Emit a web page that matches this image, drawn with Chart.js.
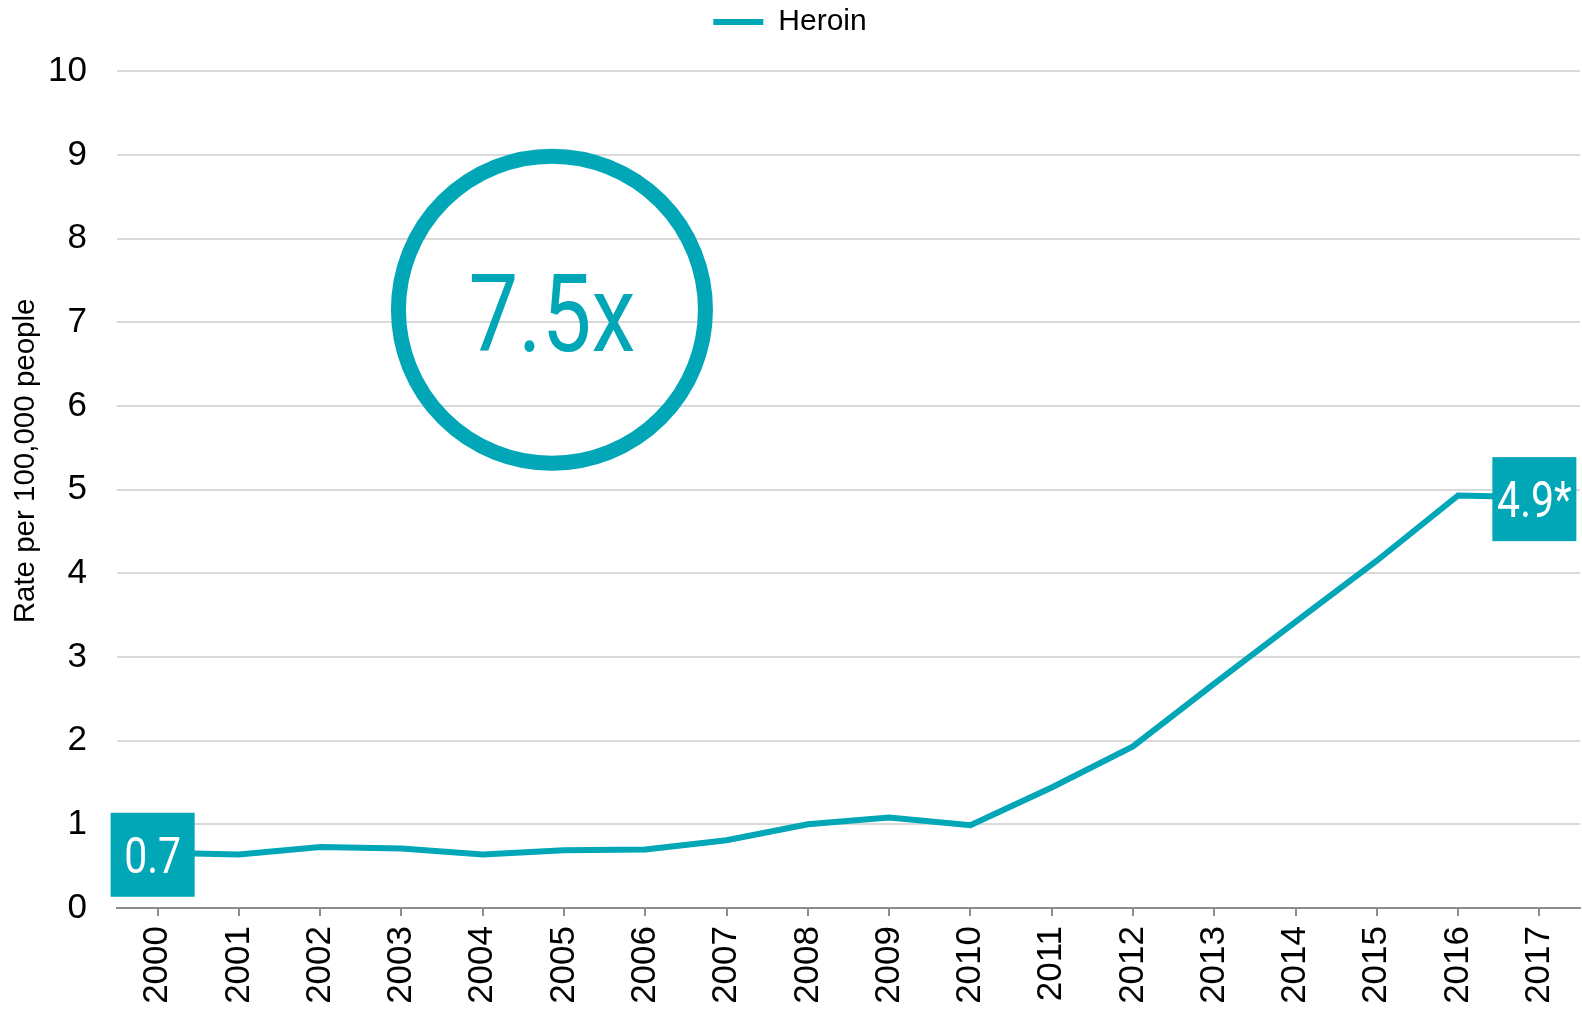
<!DOCTYPE html>
<html>
<head>
<meta charset="utf-8">
<script src="https://cdn.jsdelivr.net/npm/chart.js@4.4.1/dist/chart.umd.min.js"></script>
<style>
  html, body { margin: 0; padding: 0; background: #fff; }
  canvas { display: block; }
</style>
</head>
<body>
<canvas id="heroinChart" width="1582" height="1009"></canvas>
<script>
// data
const years = ['2000', '2001', '2002', '2003', '2004', '2005', '2006', '2007', '2008',
               '2009', '2010', '2011', '2012', '2013', '2014', '2015', '2016', '2017'];
const heroinRates = [0.66, 0.64, 0.73, 0.71, 0.64, 0.69, 0.70, 0.81, 1.00,
                     1.08, 0.99, 1.44, 1.93, 2.68, 3.42, 4.15, 4.93, 4.91];
const labelIndexes = [0, 17];
const labelTexts = ['0.7', '4.9*'];
const growthText = '7.5x';
const yMin = 0;
const yMax = 10;

const teal = '#01A6B7';
const gridGrey = '#d9d9d9';
const axisGrey = '#8c8c8c';
const font = "'Liberation Sans', Arial, sans-serif";

// condensed look for the call-out numbers
const drawNarrow = (ctx, text, x, y, size, color, squeeze) => {
    ctx.save();
    ctx.translate(x, y);
    ctx.scale(squeeze, 1);
    ctx.font = size + "px Roboto, 'Liberation Sans', sans-serif";
    ctx.fillStyle = color;
    ctx.textAlign = 'center';
    ctx.textBaseline = 'alphabetic';
    ctx.fillText(text, 0, 0);
    ctx.restore();
}

const calloutPlugin = {
    id: 'callouts',
    afterDatasetsDraw(chart) {
        const {ctx, chartArea, scales: {x, y}} = chart;
        ctx.save();
        // value boxes at the first and last points
        labelIndexes.forEach((idx, i) => {
            const px = x.getPixelForValue(idx) - 5;
            const py = y.getPixelForValue(heroinRates[idx]) + 2;
            ctx.fillStyle = teal;
            ctx.fillRect(px - 42, py - 42, 84, 84);
            drawNarrow(ctx, labelTexts[i], px, py + 18, 50, '#fff', 0.82);
        });
        // ring with the growth factor
        const cx = chartArea.left + 0.2973 * (chartArea.right - chartArea.left);
        const cy = y.getPixelForValue(7.15);
        ctx.beginPath();
        ctx.arc(cx, cy, 153.5, 0, Math.PI * 2);
        ctx.lineWidth = 15;
        ctx.strokeStyle = teal;
        ctx.stroke();
        drawNarrow(ctx, growthText, cx, cy + 41, 108, teal, 0.82);
        ctx.restore();
    }
}

const data = {
    labels: years,
    datasets: [{
        label: 'Heroin',
        data: heroinRates,
        borderColor: teal,
        backgroundColor: teal,
        borderWidth: 6,
        pointRadius: 0,
        pointHoverRadius: 0,
        tension: 0,
        fill: false
    }]
}

const options = {
    responsive: false,
    animation: false,
    devicePixelRatio: 1,
    layout: { padding: { top: 0, right: 2, bottom: 0, left: 0 } },
    plugins: {
        legend: {
            position: 'top',
            labels: {
                usePointStyle: true,
                pointStyle: 'line',
                pointStyleWidth: 50,
                padding: 7,
                color: '#000',
                font: { family: font, size: 30 }
            }
        },
        // empty title used as a spacer below the legend
        title: {
            display: true,
            text: ' ',
            weight: 500,
            font: { size: 1 },
            padding: { top: 23, bottom: 0 }
        },
        tooltip: { enabled: false }
    },
    scales: {
        x: {
            offset: true,
            grid: {
                offset: false,
                drawOnChartArea: false,
                drawTicks: true,
                tickLength: 8,
                color: axisGrey,
                lineWidth: 2
            },
            border: { display: true, color: axisGrey, width: 2 },
            ticks: {
                minRotation: 90,
                maxRotation: 90,
                autoSkip: false,
                padding: 10,
                color: '#000',
                font: { family: font, size: 35 }
            },
            afterFit: (scale) => {
                scale.height = 101;
                scale.paddingLeft = 0;
                scale.paddingRight = 0;
            }
        },
        y: {
            min: yMin,
            max: yMax,
            grid: { color: gridGrey, lineWidth: 2, drawTicks: false },
            border: { display: false },
            ticks: {
                stepSize: 1,
                padding: 30,
                color: '#000',
                font: { family: font, size: 35 }
            },
            title: {
                display: true,
                text: '       Rate per 100,000 people',
                color: '#000',
                padding: { top: 8, bottom: 4 },
                font: { family: font, size: 29.5 }
            },
            afterFit: (scale) => { scale.width = 117; }
        }
    }
}

new Chart('heroinChart', { type: 'line', data, options, plugins: [calloutPlugin] });
</script>
</body>
</html>
